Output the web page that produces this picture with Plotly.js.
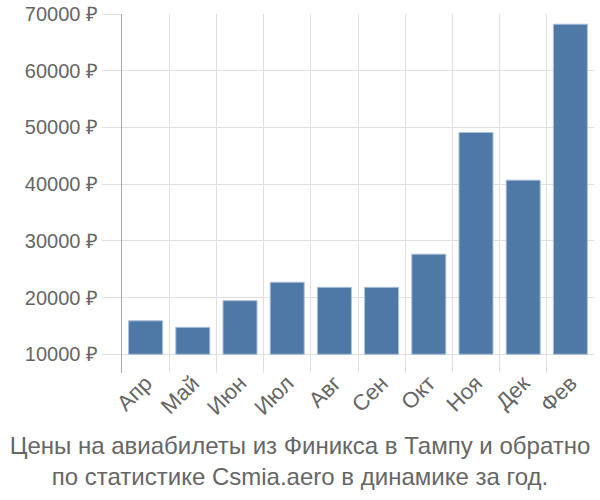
<!DOCTYPE html>
<html>
<head>
<meta charset="utf-8">
<script src="https://cdn.plot.ly/plotly-3.0.1.min.js"></script>
<style>
  html, body { margin: 0; padding: 0; background: #fff; }
  #chart { width: 600px; height: 500px; }
</style>
</head>
<body>
<div id="chart"></div>
<script>
var months = ['Апр', 'Май', 'Июн', 'Июл', 'Авг', 'Сен', 'Окт', 'Ноя', 'Дек', 'Фев'];
var prices = [15900, 14750, 19450, 22700, 21800, 21800, 27650, 49100, 40700, 68200];
var priceBase = 10000;
var yTicks = [10000, 20000, 30000, 40000, 50000, 60000, 70000];
var yTickText = yTicks.map(function (v) { return v + ' ₽'; });

var trace = {
  x: months,
  y: prices.map(function (p) { return p - priceBase; }),
  base: priceBase,
  type: 'bar',
  marker: {color: '#4e79a7', line: {color: '#a9bdd6', width: 1}},
  hoverinfo: 'x+text',
  text: prices.map(function (p) { return p + ' ₽'; }),
  textposition: 'none'
};

var layout = {
  width: 600,
  height: 500,
  margin: {l: 122, r: 6, t: 14, b: 127},
  paper_bgcolor: '#fff',
  plot_bgcolor: '#fff',
  bargap: 0.28,
  showlegend: false,
  font: {family: '"Liberation Sans", Arial, sans-serif', size: 20, color: '#666'},
  title: {
    text: 'Цены на авиабилеты из Финикса в Тампу и обратно<br>по статистике Csmia.aero в динамике за год.',
    font: {size: 24, color: '#666'},
    xref: 'container', x: 0.5, xanchor: 'center',
    yref: 'container', y: 0.093, yanchor: 'middle'
  },
  xaxis: {
    type: 'category',
    tickson: 'boundaries',
    tickangle: -45,
    ticklabelstandoff: -8,
    showgrid: true,
    gridcolor: '#e0e0e0',
    gridwidth: 1,
    ticks: '',
    showline: false,
    zeroline: false,
    tickfont: {size: 22, color: '#666'}
  },
  yaxis: {
    range: [6700, 70000],
    tickvals: yTicks,
    ticktext: yTickText,
    showgrid: true,
    gridcolor: '#e0e0e0',
    gridwidth: 1,
    ticks: 'outside',
    ticklen: 19,
    tickcolor: '#e0e0e0',
    showline: true,
    linecolor: '#aaa',
    linewidth: 1,
    zeroline: false,
    tickfont: {size: 20, color: '#666'}
  }
};

Plotly.newPlot('chart', [trace], layout, {displayModeBar: false, staticPlot: true});
</script>
</body>
</html>
